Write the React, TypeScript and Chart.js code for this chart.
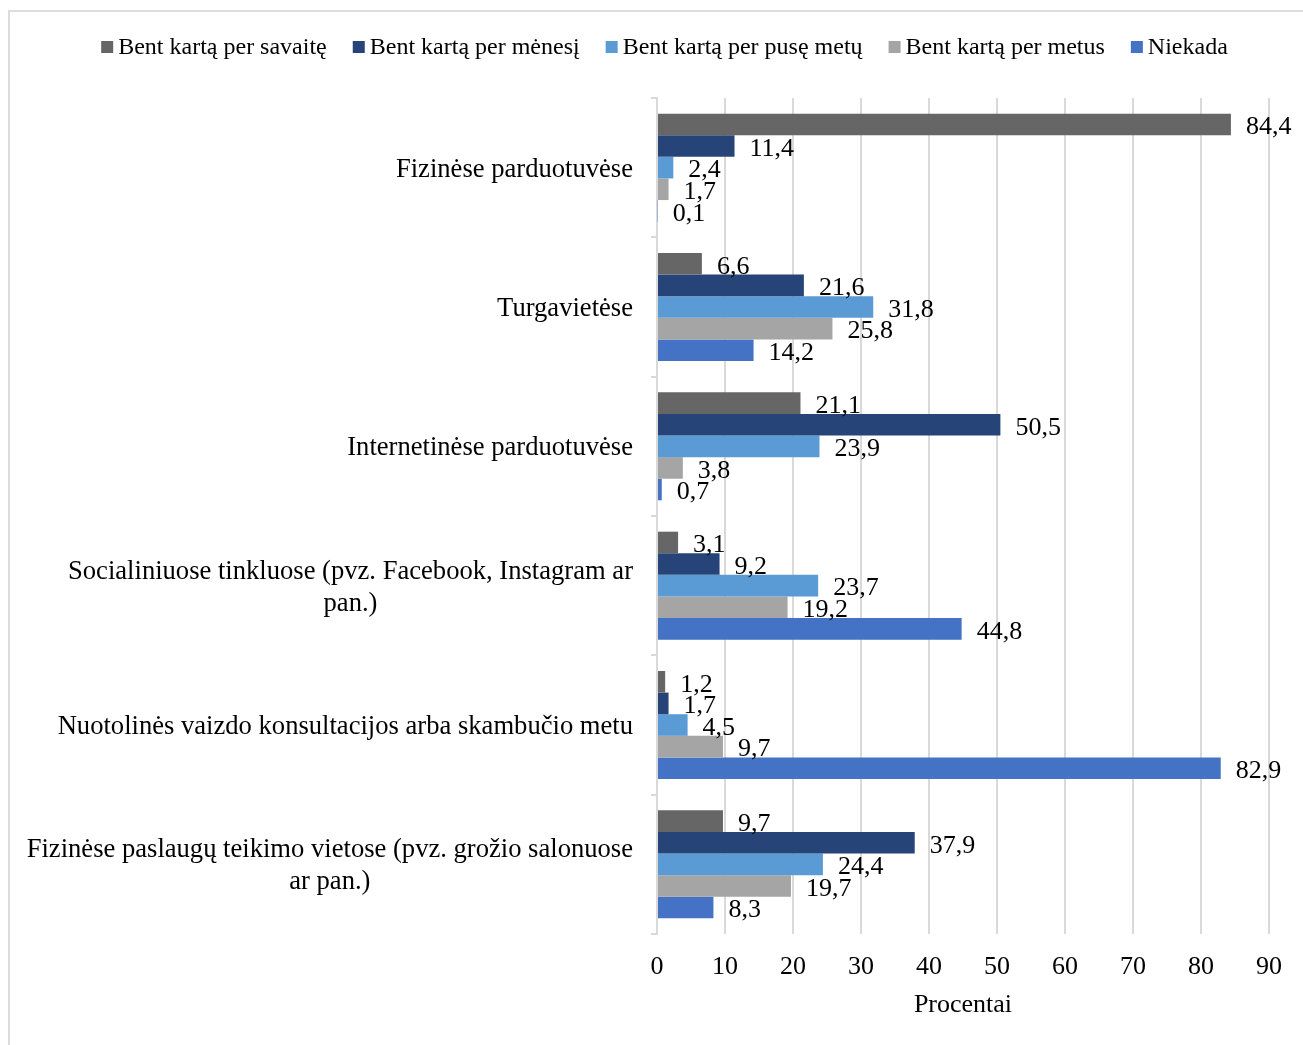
import React, { useEffect, useRef } from "react";
import { Chart, registerables } from "chart.js";

Chart.register(...registerables);

// Purchase channels (y categories), each as the lines it is printed on
const categories: string[][] = [
  ["Fizinėse parduotuvėse"],
  ["Turgavietėse"],
  ["Internetinėse parduotuvėse"],
  ["Socialiniuose tinkluose (pvz. Facebook, Instagram ar", "pan.)"],
  ["Nuotolinės vaizdo konsultacijos arba skambučio metu"],
  ["Fizinėse paslaugų teikimo vietose (pvz. grožio salonuose", "ar pan.)"],
];

const seriesNames = [
  "Bent kartą per savaitę",
  "Bent kartą per mėnesį",
  "Bent kartą per pusę metų",
  "Bent kartą per metus",
  "Niekada",
];

// Shares in percent, one value per category
const weekly = [84.4, 6.6, 21.1, 3.1, 1.2, 9.7];
const monthly = [11.4, 21.6, 50.5, 9.2, 1.7, 37.9];
const halfYear = [2.4, 31.8, 23.9, 23.7, 4.5, 24.4];
const yearly = [1.7, 25.8, 3.8, 19.2, 9.7, 19.7];
const never = [0.1, 14.2, 0.7, 44.8, 82.9, 8.3];

const seriesColors = ["#666666", "#264478", "#5B9BD5", "#A5A5A5", "#4472C4"];

const xMin = 0;
const xMax = 90;
const xStep = 10;
const xTitle = "Procentai";

const FONT = "'Liberation Serif', 'Times New Roman', serif";
const TEXT = "#000000";
const GRID = "#d9d9d9";

const fmt = (v: number) => v.toFixed(1).replace(".", ",");

const decorPlugin = {
  id: "decor",
  beforeDraw(chart: any) {
    const ctx = chart.ctx as CanvasRenderingContext2D;
    ctx.save();
    ctx.fillStyle = "#ffffff";
    ctx.fillRect(0, 0, chart.width, chart.height);
    // outer frame (runs off the right and bottom edges)
    ctx.strokeStyle = "#dcdcdc";
    ctx.lineWidth = 2;
    ctx.strokeRect(9, 11, chart.width + 40, chart.height + 40);
    ctx.restore();
  },
  afterDatasetsDraw(chart: any) {
    const ctx = chart.ctx as CanvasRenderingContext2D;
    ctx.save();
    ctx.font = `26px ${FONT}`;
    ctx.fillStyle = TEXT;
    ctx.textAlign = "left";
    ctx.textBaseline = "middle";
    chart.data.datasets.forEach((ds: any, di: number) => {
      const meta = chart.getDatasetMeta(di);
      meta.data.forEach((el: any, i: number) => {
        ctx.fillText(fmt(ds.data[i] as number), el.x + 15, el.y + 3);
      });
    });
    ctx.restore();
  },
  afterDraw(chart: any) {
    const ctx = chart.ctx as CanvasRenderingContext2D;
    const yScale = chart.scales.y;
    ctx.save();
    // category labels: block right-aligned, lines centred on each other
    ctx.font = `26.6px ${FONT}`;
    ctx.fillStyle = TEXT;
    ctx.textAlign = "center";
    ctx.textBaseline = "middle";
    const rightEdge = chart.chartArea.left - 24;
    const lineH = 32;
    categories.forEach((lines, i) => {
      const cy = yScale.getPixelForTick(i);
      const w = Math.max(...lines.map((l) => ctx.measureText(l).width));
      const cx = rightEdge - w / 2;
      const y0 = cy - ((lines.length - 1) * lineH) / 2;
      lines.forEach((l, k) => ctx.fillText(l, cx, y0 + k * lineH + 2));
    });

    // legend
    ctx.font = `24px ${FONT}`;
    ctx.textAlign = "left";
    const box = 12;
    const gapText = 5;
    const gapItem = 26;
    const widths = seriesNames.map((n) => ctx.measureText(n).width);
    const total =
      widths.reduce((a, b) => a + b, 0) + seriesNames.length * (box + gapText) + (seriesNames.length - 1) * gapItem;
    let x = 664.5 - total / 2;
    const ly = 47;
    seriesNames.forEach((n, i) => {
      ctx.fillStyle = seriesColors[i];
      ctx.fillRect(x, ly - box / 2, box, box);
      x += box + gapText;
      ctx.fillStyle = TEXT;
      ctx.fillText(n, x, ly + 1);
      x += widths[i] + gapItem;
    });
    ctx.restore();
  },
};

export default function App() {
  const ref = useRef<HTMLCanvasElement | null>(null);

  useEffect(() => {
    if (!ref.current) return;
    const seriesData = [weekly, monthly, halfYear, yearly, never];
    const chart = new Chart(ref.current, {
      type: "bar",
      data: {
        labels: categories.map((c) => c.join(" ")),
        datasets: seriesNames.map((name, i) => ({
          label: name,
          data: seriesData[i],
          backgroundColor: seriesColors[i],
          borderWidth: 0,
          categoryPercentage: 0.775,
          barPercentage: 1,
        })),
      },
      options: {
        indexAxis: "y",
        responsive: false,
        maintainAspectRatio: false,
        animation: false,
        devicePixelRatio: 1,
        layout: { padding: { left: 0, right: 34, top: 98, bottom: 0 } },
        plugins: {
          legend: { display: false },
          tooltip: { enabled: false },
        },
        scales: {
          x: {
            type: "linear",
            min: xMin,
            max: xMax,
            ticks: {
              stepSize: xStep,
              color: TEXT,
              font: { family: FONT, size: 26 },
              padding: 18,
            },
            grid: { color: GRID, lineWidth: 2, drawTicks: false },
            border: { display: false },
            title: {
              display: true,
              text: xTitle,
              color: TEXT,
              font: { family: FONT, size: 26 },
              padding: { top: 0, bottom: 24 },
            },
            afterFit(scale: any) {
              scale.height = 111;
            },
          },
          y: {
            type: "category",
            ticks: { display: false },
            grid: {
              offset: true,
              drawOnChartArea: false,
              drawTicks: true,
              tickLength: 6,
              color: GRID,
              lineWidth: 2,
            },
            border: { display: true, color: GRID, width: 2 },
            afterFit(scale: any) {
              scale.width = 657;
            },
          },
        },
      },
      plugins: [decorPlugin],
    } as any);
    return () => chart.destroy();
  }, []);

  return (
    <div
      style={{
        position: "fixed",
        left: 0,
        top: 0,
        width: 1303,
        height: 1045,
        overflow: "hidden",
        background: "#ffffff",
      }}
    >
      <canvas ref={ref} width={1303} height={1045} style={{ display: "block" }} />
    </div>
  );
}
